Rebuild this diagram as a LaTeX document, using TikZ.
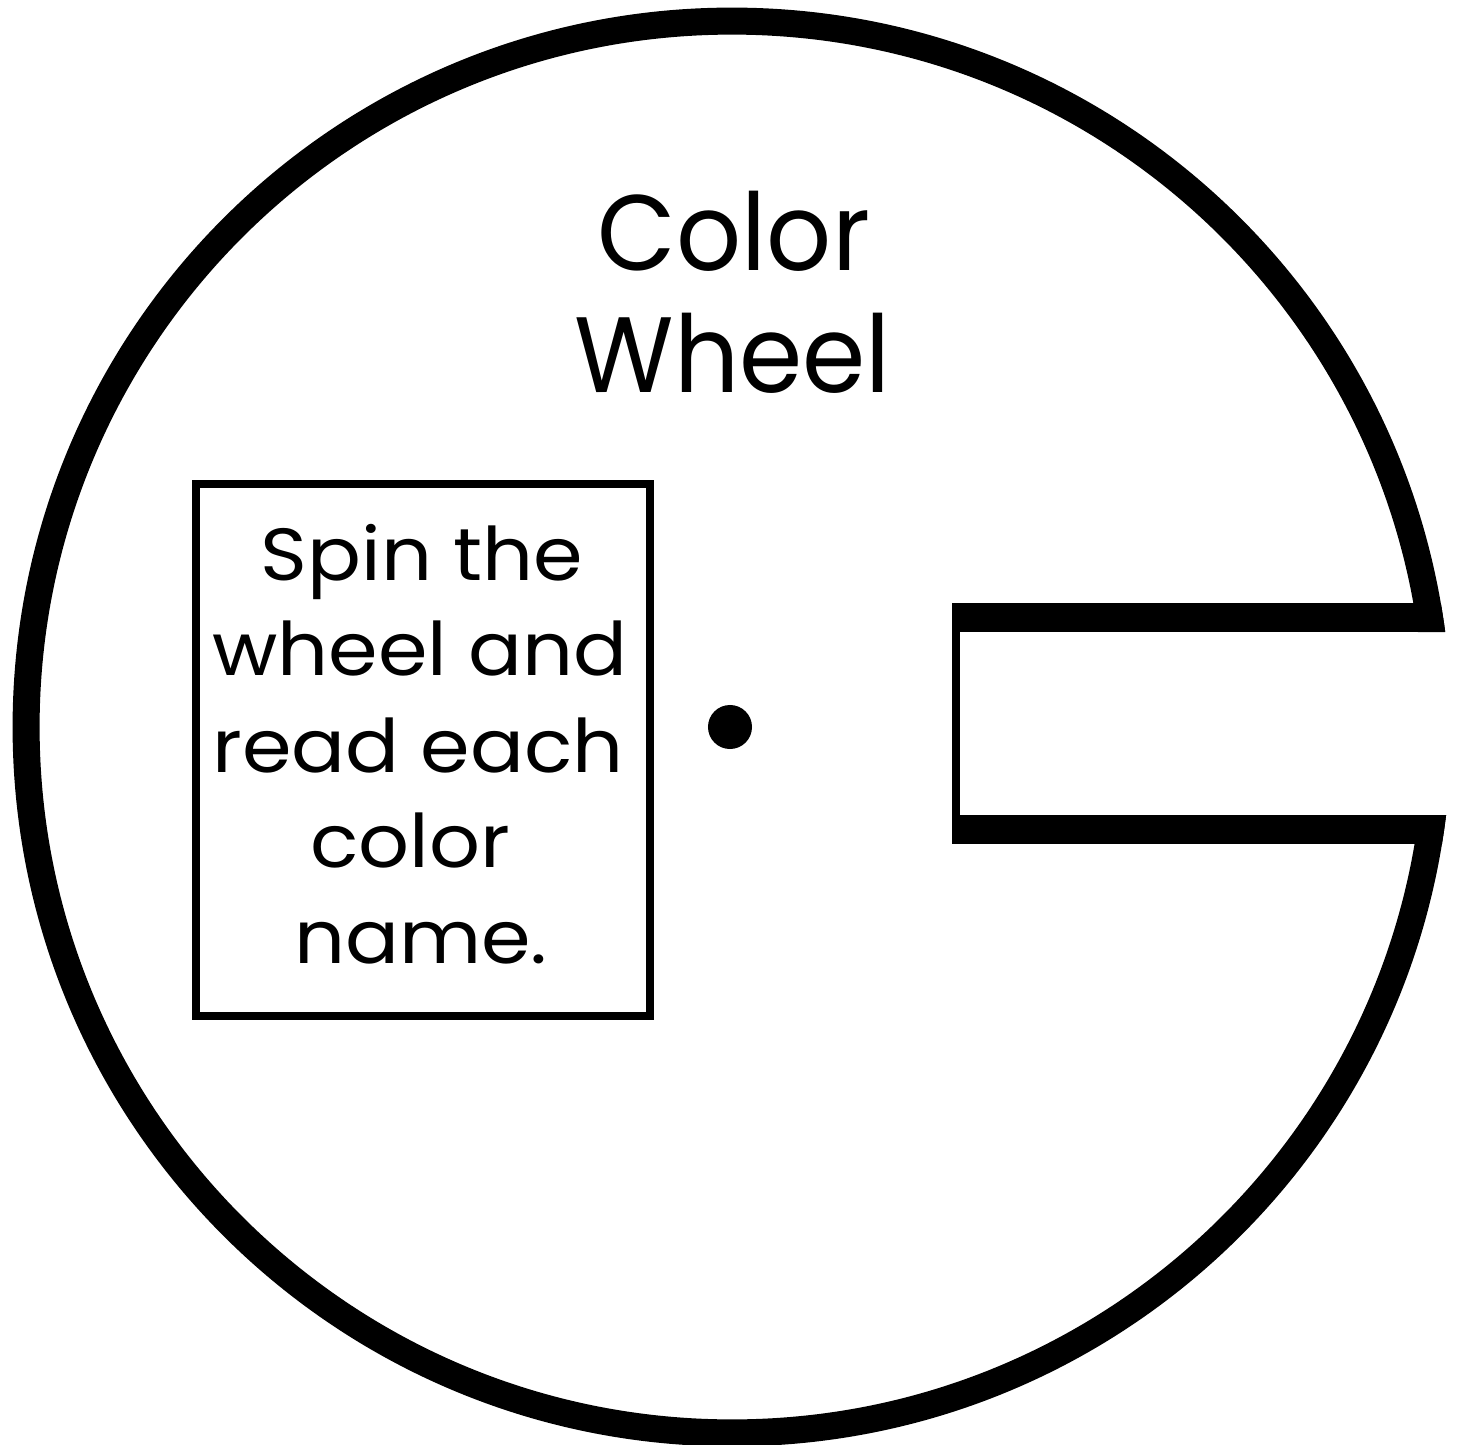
\documentclass[tikz,border=0pt]{standalone}
\usepackage{fontspec}
\newfontfamily\gtitle[FakeStretch=0.95]{Poppins}
\newfontfamily\gbox[FakeStretch=1.08]{Poppins}
\tikzset{
  titletext/.style={font=\gtitle\fontsize{30.5pt}{34pt}\selectfont, anchor=base, inner sep=0pt},
  boxtext/.style={font=\gbox\fontsize{21pt}{27pt}\selectfont, anchor=base, inner sep=0pt},
}
\begin{document}
\begin{tikzpicture}[x=0.01cm,y=-0.01cm]
\useasboundingbox (0,0) rectangle (1457,1445);
\fill[white] (0,0) rectangle (1457,1445);
\coordinate (cen) at (732,727);
% ring, open at the slot
\begin{scope}
  \clip (0,0) rectangle (1457,632) (0,815) rectangle (1457,1445) (0,632) rectangle (960,815);
  \fill[black, even odd rule] (cen) circle[radius=7.19cm] (cen) circle[radius=6.92cm];
\end{scope}
% slot bars
\begin{scope}
  \clip (cen) circle[radius=7.19cm];
  \fill[black] (952,603) rectangle (1500,632);
  \fill[black] (952,815) rectangle (1500,844);
  \fill[black] (952,603) rectangle (960,844);
\end{scope}
% centre dot
\node[circle, fill=black, minimum size=0.44cm, inner sep=0pt] (dot) at (730,727) {};
% title
\node[titletext] (t1) at (734,270) {Color};
\node[titletext] (t2) at (733,392) {Wheel};
% instruction box
\draw[line width=2.1pt] (196,484) rectangle (650,1016);
\node[boxtext] (l1) at (422,580) {Spin the};
\node[boxtext] (l2) at (420,675) {wheel and};
\node[boxtext] (l3) at (418,772) {read each};
\node[boxtext] (l4) at (410,867) {color};
\node[boxtext] (l5) at (421,963) {name.};
\end{tikzpicture}
\end{document}
